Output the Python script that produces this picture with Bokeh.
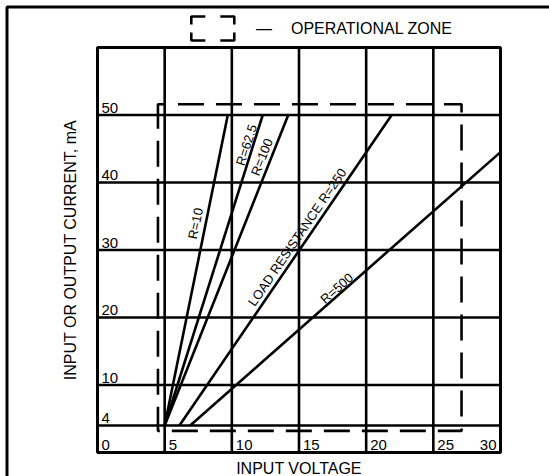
import math
from bokeh.plotting import figure
from bokeh.models import ColumnDataSource, Range1d
from bokeh.core.properties import value
from bokeh.embed import file_html
from bokeh.resources import INLINE

# ---------------- data ----------------
voltage_ticks = [0, 5, 10, 15, 20, 25, 30]
voltage_tick_labels = ["0", "5", "10", "15", "20", "25", "30"]
current_ticks = [4, 10, 20, 30, 40, 50]
current_tick_labels = ["4", "10", "20", "30", "40", "50"]
current_max = 60

load_labels = ["R=10", "R=62.5", "R=100", "LOAD RESISTANCE R=250", "R=500"]
v_start = [5.0, 5.0, 5.0, 6.1, 6.9]
ma_start = [4.0, 4.0, 4.0, 4.0, 4.0]
v_end = [9.7, 12.3, 14.2, 21.9, 30.0]
ma_end = [50.0, 50.0, 50.0, 50.0, 44.5]

zone_v = [4.5, 27.1]      # operational zone, volts (left, right)
zone_ma = [3.2, 51.6]     # operational zone, mA (bottom, top)

x_title = "INPUT VOLTAGE"
y_title = "INPUT OR OUTPUT CURRENT, mA"
legend_text = "OPERATIONAL ZONE"

# ---------------- layout / style ----------------
FONT = "Liberation Sans"
W, H = 549, 476
GX0, GX1 = 97.0, 500.0      # canvas px of first and last voltage tick
GY0, GY1 = 452.0, 47.0      # canvas px of 0 mA and current_max
V0, V1 = voltage_ticks[0], voltage_ticks[-1]
PXV = (GX1 - GX0) / (V1 - V0)
PXM = (GY0 - GY1) / current_max


def dx(px):
    return V0 + (px - GX0) / PXV


def dy(py):
    return (GY0 - py) / PXM


label_frac = [0.644, 0.897, 0.854, 0.59, 0.485]   # where along each line its label sits
label_gap = [10, 6.5, 9, 9, 6]                      # px from the line

p = figure(width=W, height=H,
           x_range=Range1d(dx(0), dx(W)), y_range=Range1d(dy(H), dy(0)),
           output_backend="svg", toolbar_location=None,
           x_axis_location=None, y_axis_location=None, min_border=0)
p.min_border_left = p.min_border_right = p.min_border_top = p.min_border_bottom = 0
p.background_fill_color = "white"
p.border_fill_color = "white"
p.outline_line_color = None
p.grid.visible = False

LW = 2.6
TXT = dict(text_font=value(FONT), text_color="black", text_baseline="middle")

# outer frame of the figure (runs off the right and bottom edges)
p.quad(left=[dx(6.5)], right=[dx(W + 30)], top=[dy(6.5)], bottom=[dy(H + 30)],
       fill_color=None, line_color="black", line_width=3)

# chart border and grid
p.quad(left=[V0], right=[V1], bottom=[0], top=[current_max],
       fill_color=None, line_color="black", line_width=3)
inner_v = voltage_ticks[1:-1]
p.segment(x0=inner_v, y0=[0] * len(inner_v), x1=inner_v, y1=[current_max] * len(inner_v),
          line_color="black", line_width=LW)
p.segment(x0=[V0] * len(current_ticks), y0=current_ticks,
          x1=[V1] * len(current_ticks), y1=current_ticks,
          line_color="black", line_width=LW)

# tick labels inside the grid
n = len(voltage_ticks)
p.text(x=voltage_ticks[:-1], y=[0] * (n - 1), text=voltage_tick_labels[:-1],
       x_offset=4, y_offset=-7.5, text_align="left", text_font_size="15px", **TXT)
p.text(x=voltage_ticks[-1:], y=[0], text=voltage_tick_labels[-1:],
       x_offset=-4, y_offset=-7.5, text_align="right", text_font_size="15px", **TXT)
p.text(x=[V0] * len(current_ticks), y=current_ticks, text=current_tick_labels,
       x_offset=4, y_offset=-7.5, text_align="left", text_font_size="15px", **TXT)

# axis titles
p.text(x=[(V0 + V1) / 2], y=[dy(467.5)], text=[x_title], text_align="center",
       text_font_size="16px", **TXT)
p.text(x=[dx(70.3)], y=[current_max / 2], text=[y_title], angle=math.pi / 2,
       text_align="center", text_font_size="16px", **TXT)

# operational zone
p.quad(left=[zone_v[0]], right=[zone_v[1]], bottom=[zone_ma[0]], top=[zone_ma[1]],
       fill_color=None, line_color="black", line_width=LW,
       line_dash="26 12", line_dash_offset=18)

# load lines
p.segment(x0=v_start, y0=ma_start, x1=v_end, y1=ma_end,
          line_color="black", line_width=LW)

# labels along the load lines
lx, ly, la, lxo, lyo = [], [], [], [], []
for i in range(len(load_labels)):
    dv = v_end[i] - v_start[i]
    dm = ma_end[i] - ma_start[i]
    a = math.atan2(dm * PXM, dv * PXV)
    t = label_frac[i]
    lx.append(v_start[i] + t * dv)
    ly.append(ma_start[i] + t * dm)
    la.append(a)
    lxo.append(-math.sin(a) * label_gap[i])
    lyo.append(-math.cos(a) * label_gap[i])
p.text(x="x", y="y", text="text", angle="a", x_offset="xo", y_offset="yo",
       source=ColumnDataSource(dict(x=lx, y=ly, text=load_labels, a=la, xo=lxo, yo=lyo)),
       text_align="center", text_font_size="13px", **TXT)

# key for the operational zone (drawn above the chart)
p.quad(left=[dx(190.8)], right=[dx(233.8)], top=[dy(16)], bottom=[dy(40)],
       fill_color=None, line_color="black", line_width=LW,
       line_dash="22 15 22 8", line_dash_offset=8)
p.text(x=[dx(255.5)], y=[dy(27.5)], text=["—"], text_align="left",
       text_font_size="16px", **TXT)
p.text(x=[dx(290.5)], y=[dy(27.5)], text=[legend_text], text_align="left",
       text_font_size="16px", **TXT)

open("out.html", "w").write(file_html(p, INLINE))
